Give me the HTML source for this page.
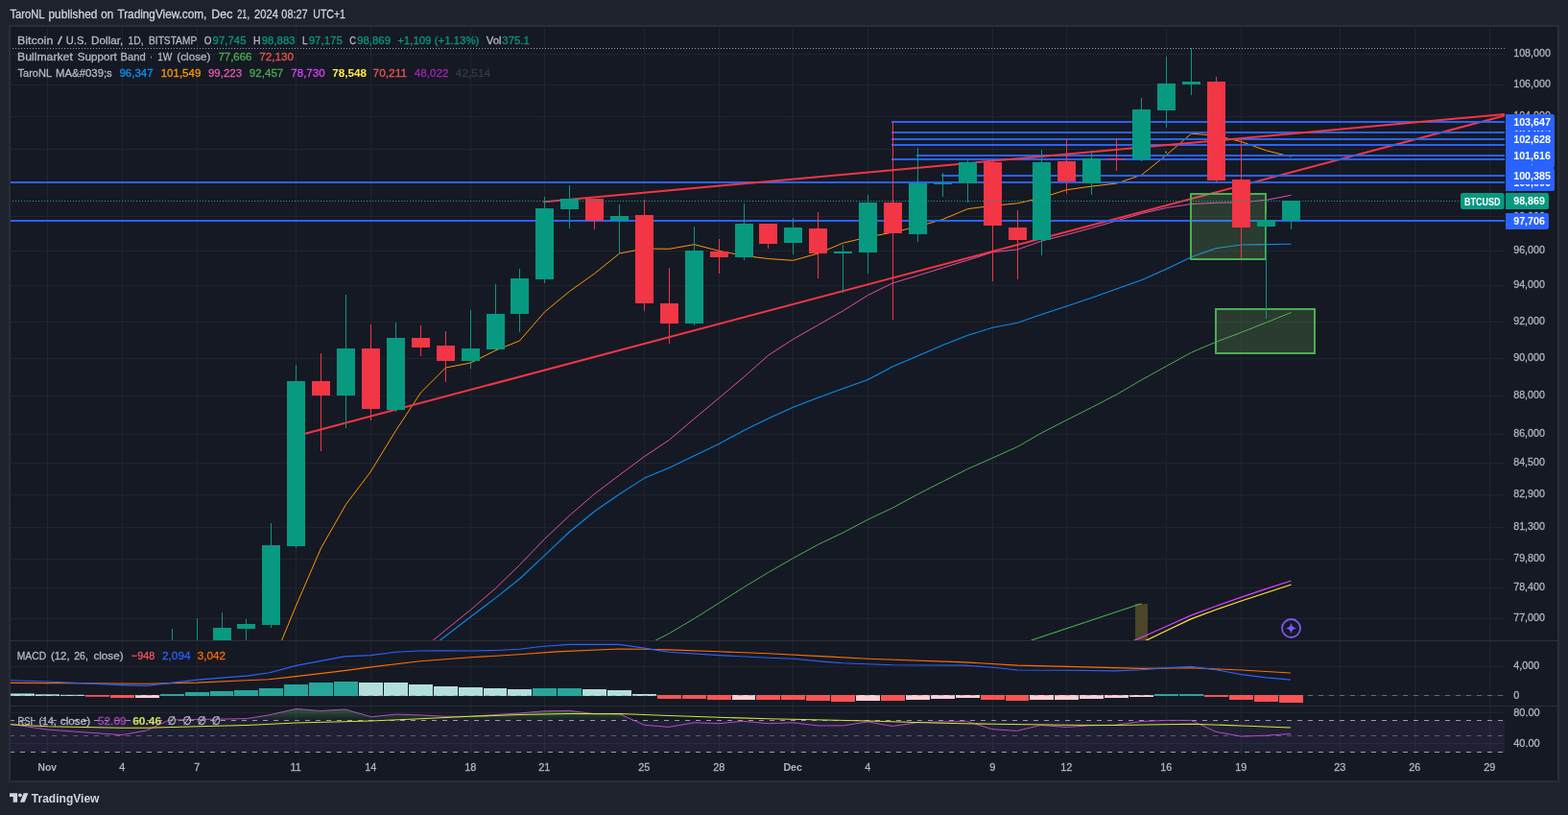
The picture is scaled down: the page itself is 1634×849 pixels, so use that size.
<!DOCTYPE html>
<html lang="en"><head><meta charset="utf-8"><title>BTCUSD chart</title>
<style>html,body{margin:0;padding:0;background:#1e222d;overflow:hidden}svg{display:block}text{white-space:pre}</style></head>
<body>
<svg width="1634" height="849" viewBox="0 0 1634 849" font-family='"Liberation Sans", sans-serif' shape-rendering="auto">
<defs>
<clipPath id="cm"><rect x="11" y="28" width="1557" height="639"/></clipPath>
<clipPath id="cmacd"><rect x="11" y="668" width="1557" height="67"/></clipPath>
<clipPath id="crsi"><rect x="11" y="736" width="1557" height="50"/></clipPath>
<clipPath id="cax"><rect x="1568" y="28" width="56" height="786"/></clipPath>
<linearGradient id="ob" x1="0" y1="726" x2="0" y2="751" gradientUnits="userSpaceOnUse"><stop offset="0" stop-color="#4caf50" stop-opacity="0.8"/><stop offset="1" stop-color="#4caf50" stop-opacity="0.02"/></linearGradient>
</defs>
<rect x="0" y="0" width="1634" height="849" fill="#1e222d" />
<rect x="10" y="27" width="1614" height="787" fill="#151924" stroke="#2a2e39" stroke-width="2"/>
<line x1="49.5" y1="28" x2="49.5" y2="786" stroke="#20242f" stroke-width="1" />
<line x1="127.5" y1="28" x2="127.5" y2="786" stroke="#20242f" stroke-width="1" />
<line x1="205.5" y1="28" x2="205.5" y2="786" stroke="#20242f" stroke-width="1" />
<line x1="308.5" y1="28" x2="308.5" y2="786" stroke="#20242f" stroke-width="1" />
<line x1="386.5" y1="28" x2="386.5" y2="786" stroke="#20242f" stroke-width="1" />
<line x1="490.5" y1="28" x2="490.5" y2="786" stroke="#20242f" stroke-width="1" />
<line x1="567.5" y1="28" x2="567.5" y2="786" stroke="#20242f" stroke-width="1" />
<line x1="671.5" y1="28" x2="671.5" y2="786" stroke="#20242f" stroke-width="1" />
<line x1="749.5" y1="28" x2="749.5" y2="786" stroke="#20242f" stroke-width="1" />
<line x1="826.5" y1="28" x2="826.5" y2="786" stroke="#20242f" stroke-width="1" />
<line x1="904.5" y1="28" x2="904.5" y2="786" stroke="#20242f" stroke-width="1" />
<line x1="1034.5" y1="28" x2="1034.5" y2="786" stroke="#20242f" stroke-width="1" />
<line x1="1111.5" y1="28" x2="1111.5" y2="786" stroke="#20242f" stroke-width="1" />
<line x1="1215.5" y1="28" x2="1215.5" y2="786" stroke="#20242f" stroke-width="1" />
<line x1="1293.5" y1="28" x2="1293.5" y2="786" stroke="#20242f" stroke-width="1" />
<line x1="1396.5" y1="28" x2="1396.5" y2="786" stroke="#20242f" stroke-width="1" />
<line x1="1474.5" y1="28" x2="1474.5" y2="786" stroke="#20242f" stroke-width="1" />
<line x1="1552.5" y1="28" x2="1552.5" y2="786" stroke="#20242f" stroke-width="1" />
<line x1="11" y1="56.5" x2="1568" y2="56.5" stroke="#20242f" stroke-width="1" />
<line x1="11" y1="88.5" x2="1568" y2="88.5" stroke="#20242f" stroke-width="1" />
<line x1="11" y1="121.5" x2="1568" y2="121.5" stroke="#20242f" stroke-width="1" />
<line x1="11" y1="155.5" x2="1568" y2="155.5" stroke="#20242f" stroke-width="1" />
<line x1="11" y1="189.5" x2="1568" y2="189.5" stroke="#20242f" stroke-width="1" />
<line x1="11" y1="225.5" x2="1568" y2="225.5" stroke="#20242f" stroke-width="1" />
<line x1="11" y1="261.5" x2="1568" y2="261.5" stroke="#20242f" stroke-width="1" />
<line x1="11" y1="297.5" x2="1568" y2="297.5" stroke="#20242f" stroke-width="1" />
<line x1="11" y1="335.5" x2="1568" y2="335.5" stroke="#20242f" stroke-width="1" />
<line x1="11" y1="373.5" x2="1568" y2="373.5" stroke="#20242f" stroke-width="1" />
<line x1="11" y1="412.5" x2="1568" y2="412.5" stroke="#20242f" stroke-width="1" />
<line x1="11" y1="452.5" x2="1568" y2="452.5" stroke="#20242f" stroke-width="1" />
<line x1="11" y1="482.5" x2="1568" y2="482.5" stroke="#20242f" stroke-width="1" />
<line x1="11" y1="515.5" x2="1568" y2="515.5" stroke="#20242f" stroke-width="1" />
<line x1="11" y1="549.5" x2="1568" y2="549.5" stroke="#20242f" stroke-width="1" />
<line x1="11" y1="582.5" x2="1568" y2="582.5" stroke="#20242f" stroke-width="1" />
<line x1="11" y1="612.5" x2="1568" y2="612.5" stroke="#20242f" stroke-width="1" />
<line x1="11" y1="644.5" x2="1568" y2="644.5" stroke="#20242f" stroke-width="1" />
<line x1="11" y1="694.5" x2="1568" y2="694.5" stroke="#20242f" stroke-width="1" />
<line x1="11" y1="724.5" x2="1568" y2="724.5" stroke="#20242f" stroke-width="1" />
<line x1="11" y1="742.5" x2="1568" y2="742.5" stroke="#20242f" stroke-width="1" />
<line x1="11" y1="774.5" x2="1568" y2="774.5" stroke="#20242f" stroke-width="1" />
<line x1="10" y1="667.5" x2="1624" y2="667.5" stroke="#2a2e39" stroke-width="1.2" />
<line x1="10" y1="735.5" x2="1624" y2="735.5" stroke="#2a2e39" stroke-width="1.2" />
<g clip-path="url(#cm)">
<line x1="10" y1="50.5" x2="1568" y2="50.5" stroke="#9598a1" stroke-width="1" stroke-dasharray="1.1 1.9"/>
<polyline points="671.5,673.0 697.5,659.8 723.5,644.4 749.5,628.0 775.5,611.5 800.5,596.4 826.5,581.5 852.5,567.3 878.5,554.9 904.5,541.2 930.5,528.9 956.5,514.8 982.5,501.6 1008.5,488.5 1034.5,477.0 1060.5,465.3 1085.5,450.9 1111.5,437.6 1137.5,424.5 1163.5,411.0 1189.5,395.8 1215.5,381.4 1241.5,367.2 1267.5,356.1 1293.5,346.3 1319.5,336.0 1345.5,325.5" fill="none" stroke="#4caf50" stroke-width="1.0" stroke-linejoin="round" />
<polyline points="438.5,682.0 464.5,662.5 490.5,642.5 516.5,622.9 541.5,603.0 567.5,578.6 593.5,554.0 619.5,532.7 645.5,514.8 671.5,498.1 697.5,487.2 723.5,474.7 749.5,462.2 775.5,448.3 800.5,436.0 826.5,424.3 852.5,414.2 878.5,404.8 904.5,395.6 930.5,381.8 956.5,370.7 982.5,359.6 1008.5,349.3 1034.5,341.3 1060.5,336.2 1085.5,327.6 1111.5,319.0 1137.5,310.3 1163.5,301.0 1189.5,291.8 1215.5,280.2 1241.5,267.8 1267.5,258.6 1293.5,255.0 1319.5,254.6 1345.5,254.3" fill="none" stroke="#0a8cee" stroke-width="1.1" stroke-linejoin="round" />
<polyline points="438.5,677.7 464.5,656.2 490.5,635.2 516.5,612.8 541.5,588.5 567.5,561.5 593.5,537.0 619.5,514.5 645.5,494.9 671.5,475.6 697.5,458.2 723.5,436.1 749.5,414.4 775.5,392.5 800.5,370.2 826.5,353.4 852.5,338.6 878.5,323.8 904.5,307.5 930.5,294.8 956.5,287.0 982.5,279.0 1008.5,271.0 1034.5,262.7 1060.5,259.9 1085.5,251.0 1111.5,244.5 1137.5,237.5 1163.5,230.0 1189.5,222.5 1215.5,216.5 1241.5,212.5 1267.5,211.3 1293.5,210.8 1319.5,208.4 1345.5,203.3" fill="none" stroke="#e052a8" stroke-width="1.0" stroke-linejoin="round" />
<polyline points="282.5,694.0 308.5,631.0 334.5,571.0 360.5,525.5 386.5,491.0 412.5,448.5 438.5,409.0 464.5,383.0 490.5,378.0 516.5,365.0 541.5,355.0 567.5,325.0 593.5,303.5 619.5,285.0 645.5,264.0 671.5,259.0 697.5,259.3 723.5,254.7 749.5,261.4 775.5,266.4 800.5,269.5 826.5,271.3 852.5,264.0 878.5,253.2 904.5,247.0 930.5,242.0 956.5,236.0 982.5,228.5 1008.5,217.6 1034.5,214.3 1060.5,211.8 1085.5,206.0 1111.5,197.7 1137.5,194.1 1163.5,191.1 1189.5,182.3 1215.5,161.5 1241.5,139.2 1267.5,141.2 1293.5,147.6 1319.5,156.8 1345.5,163.2" fill="none" stroke="#ff9800" stroke-width="1.0" stroke-linejoin="round" />
<line x1="318" y1="451.7" x2="1568" y2="120.5" stroke="#f23645" stroke-width="2" stroke-linecap="round"/>
<line x1="929" y1="127" x2="1568" y2="127" stroke="#2962ff" stroke-width="2.2" />
<line x1="929" y1="138" x2="1568" y2="138" stroke="#2962ff" stroke-width="2.2" />
<line x1="929" y1="145" x2="1568" y2="145" stroke="#2962ff" stroke-width="2.2" />
<line x1="929" y1="151" x2="1568" y2="151" stroke="#2962ff" stroke-width="2.2" />
<line x1="955" y1="162" x2="1568" y2="162" stroke="#2962ff" stroke-width="2.2" />
<line x1="929" y1="166" x2="1568" y2="166" stroke="#2962ff" stroke-width="2.2" />
<line x1="981" y1="183" x2="1568" y2="183" stroke="#2962ff" stroke-width="2.2" />
<line x1="10" y1="190" x2="1568" y2="190" stroke="#2962ff" stroke-width="2.2" />
<line x1="10" y1="230" x2="1568" y2="230" stroke="#2962ff" stroke-width="2.2" />
<line x1="567" y1="210.3" x2="1568" y2="119" stroke="#f23645" stroke-width="2" stroke-linecap="round"/>
<rect x="1183" y="629" width="13" height="40" fill="#4b4529" />
<line x1="1074.6" y1="667" x2="1189.5" y2="628.8" stroke="#4caf50" stroke-width="1.1" />
<polyline points="1163.5,675.0 1189.5,664.0 1215.5,652.5 1241.5,640.9 1267.5,631.2 1293.5,622.1 1319.5,613.4 1345.5,605.0" fill="none" stroke="#e040fb" stroke-width="1.2" stroke-linejoin="round" />
<polyline points="1189.5,669.5 1215.5,657.0 1241.5,644.6 1267.5,635.0 1293.5,626.0 1319.5,617.5 1345.5,609.0" fill="none" stroke="#ffeb3b" stroke-width="1.2" stroke-linejoin="round" />
<circle cx="1215" cy="158.5" r="1.1" fill="#4caf50"/>
<rect x="1241" y="202" width="78" height="68" fill="#82c364" fill-opacity="0.2" stroke="#4caf50" stroke-width="2"/>
<rect x="1267" y="322" width="103" height="46" fill="#82c364" fill-opacity="0.2" stroke="#4caf50" stroke-width="2"/>
<rect x="179" y="655" width="1" height="65" fill="#089981" />
<rect x="170" y="700" width="19" height="20" fill="#089981" />
<rect x="205" y="644" width="1" height="76" fill="#089981" />
<rect x="196" y="700" width="19" height="20" fill="#089981" />
<rect x="231" y="638" width="1" height="82" fill="#089981" />
<rect x="222" y="654" width="19" height="66" fill="#089981" />
<rect x="256" y="645" width="1" height="75" fill="#089981" />
<rect x="247" y="650" width="19" height="5" fill="#089981" />
<rect x="282" y="545" width="1" height="109" fill="#089981" />
<rect x="273" y="568" width="19" height="83" fill="#089981" />
<rect x="308" y="380" width="1" height="191" fill="#089981" />
<rect x="299" y="397" width="19" height="172" fill="#089981" />
<rect x="334" y="368" width="1" height="102" fill="#f23645" />
<rect x="325" y="397" width="19" height="15" fill="#f23645" />
<rect x="360" y="307" width="1" height="139" fill="#089981" />
<rect x="351" y="363" width="19" height="49" fill="#089981" />
<rect x="386" y="338" width="1" height="100" fill="#f23645" />
<rect x="377" y="363" width="19" height="63" fill="#f23645" />
<rect x="412" y="336" width="1" height="93" fill="#089981" />
<rect x="403" y="352" width="19" height="75" fill="#089981" />
<rect x="438" y="339" width="1" height="32" fill="#f23645" />
<rect x="429" y="352" width="19" height="10" fill="#f23645" />
<rect x="464" y="345" width="1" height="53" fill="#f23645" />
<rect x="455" y="360" width="19" height="16" fill="#f23645" />
<rect x="490" y="323" width="1" height="61" fill="#089981" />
<rect x="481" y="363" width="19" height="13" fill="#089981" />
<rect x="516" y="296" width="1" height="69" fill="#089981" />
<rect x="507" y="327" width="19" height="37" fill="#089981" />
<rect x="541" y="280" width="1" height="66" fill="#089981" />
<rect x="532" y="290" width="19" height="37" fill="#089981" />
<rect x="567" y="205" width="1" height="90" fill="#089981" />
<rect x="558" y="217" width="19" height="74" fill="#089981" />
<rect x="593" y="193" width="1" height="45" fill="#089981" />
<rect x="584" y="207" width="19" height="11" fill="#089981" />
<rect x="619" y="207" width="1" height="32" fill="#f23645" />
<rect x="610" y="207" width="19" height="23" fill="#f23645" />
<rect x="645" y="213" width="1" height="51" fill="#089981" />
<rect x="636" y="225" width="19" height="5" fill="#089981" />
<rect x="671" y="208" width="1" height="116" fill="#f23645" />
<rect x="662" y="224" width="19" height="92" fill="#f23645" />
<rect x="697" y="279" width="1" height="79" fill="#f23645" />
<rect x="688" y="316" width="19" height="21" fill="#f23645" />
<rect x="723" y="236" width="1" height="103" fill="#089981" />
<rect x="714" y="261" width="19" height="76" fill="#089981" />
<rect x="749" y="249" width="1" height="36" fill="#f23645" />
<rect x="740" y="262" width="19" height="6" fill="#f23645" />
<rect x="775" y="212" width="1" height="59" fill="#089981" />
<rect x="766" y="233" width="19" height="35" fill="#089981" />
<rect x="800" y="233" width="1" height="26" fill="#f23645" />
<rect x="791" y="233" width="19" height="21" fill="#f23645" />
<rect x="826" y="227" width="1" height="38" fill="#089981" />
<rect x="817" y="237" width="19" height="16" fill="#089981" />
<rect x="852" y="221" width="1" height="69" fill="#f23645" />
<rect x="843" y="238" width="19" height="26" fill="#f23645" />
<rect x="878" y="255" width="1" height="50" fill="#089981" />
<rect x="869" y="262" width="19" height="2" fill="#089981" />
<rect x="904" y="203" width="1" height="82" fill="#089981" />
<rect x="895" y="211" width="19" height="52" fill="#089981" />
<rect x="930" y="127" width="1" height="206" fill="#f23645" />
<rect x="921" y="211" width="19" height="32" fill="#f23645" />
<rect x="956" y="154" width="1" height="98" fill="#089981" />
<rect x="947" y="191" width="19" height="53" fill="#089981" />
<rect x="982" y="180" width="1" height="25" fill="#089981" />
<rect x="973" y="191" width="19" height="1" fill="#089981" />
<rect x="1008" y="165" width="1" height="46" fill="#089981" />
<rect x="999" y="169" width="19" height="22" fill="#089981" />
<rect x="1034" y="168" width="1" height="125" fill="#f23645" />
<rect x="1025" y="169" width="19" height="66" fill="#f23645" />
<rect x="1060" y="219" width="1" height="72" fill="#f23645" />
<rect x="1051" y="237" width="19" height="13" fill="#f23645" />
<rect x="1085" y="156" width="1" height="110" fill="#089981" />
<rect x="1076" y="169" width="19" height="81" fill="#089981" />
<rect x="1111" y="145" width="1" height="57" fill="#f23645" />
<rect x="1102" y="168" width="19" height="21" fill="#f23645" />
<rect x="1137" y="157" width="1" height="46" fill="#089981" />
<rect x="1128" y="165" width="19" height="26" fill="#089981" />
<rect x="1163" y="144" width="1" height="34" fill="#f23645" />
<rect x="1154" y="165" width="19" height="1" fill="#f23645" />
<rect x="1189" y="102" width="1" height="66" fill="#089981" />
<rect x="1180" y="114" width="19" height="52" fill="#089981" />
<rect x="1215" y="59" width="1" height="74" fill="#089981" />
<rect x="1206" y="87" width="19" height="28" fill="#089981" />
<rect x="1241" y="50" width="1" height="49" fill="#089981" />
<rect x="1232" y="85" width="19" height="3" fill="#089981" />
<rect x="1267" y="80" width="1" height="110" fill="#f23645" />
<rect x="1258" y="85" width="19" height="103" fill="#f23645" />
<rect x="1293" y="145" width="1" height="124" fill="#f23645" />
<rect x="1284" y="187" width="19" height="50" fill="#f23645" />
<rect x="1319" y="223" width="1" height="109" fill="#089981" />
<rect x="1310" y="229" width="19" height="7" fill="#089981" />
<rect x="1345" y="209" width="1" height="30" fill="#089981" />
<rect x="1336" y="209" width="19" height="21" fill="#089981" />
<line x1="10" y1="209.5" x2="1522" y2="209.5" stroke="#0aa58c" stroke-width="1" stroke-dasharray="1.15 1.85"/>
<g transform="translate(1345.5,654.5)"><circle r="9.5" fill="none" stroke="#7e57f2" stroke-width="1.8"/><path d="M0,-6 C0.8,-1.8 1.8,-0.8 6,0 C1.8,0.8 0.8,1.8 0,6 C-0.8,1.8 -1.8,0.8 -6,0 C-1.8,-0.8 -0.8,-1.8 0,-6Z" fill="#7e57f2"/></g>
</g>
<g clip-path="url(#cmacd)">
<rect x="11" y="722.5" width="25" height="2.5" fill="#b2dfdb" />
<rect x="37" y="723.3" width="25" height="1.7000000000000455" fill="#b2dfdb" />
<rect x="63" y="723.8" width="25" height="1.2000000000000455" fill="#b2dfdb" />
<rect x="89" y="724" width="25" height="1.7999999999999545" fill="#ff5252" />
<rect x="115" y="724" width="25" height="3" fill="#ff5252" />
<rect x="141" y="724" width="25" height="3" fill="#ffcdd2" />
<rect x="167" y="723" width="25" height="2" fill="#26a69a" />
<rect x="193" y="721" width="25" height="4" fill="#26a69a" />
<rect x="219" y="720" width="24" height="5" fill="#26a69a" />
<rect x="244" y="719" width="25" height="6" fill="#26a69a" />
<rect x="270" y="717" width="25" height="8" fill="#26a69a" />
<rect x="296" y="713" width="25" height="12" fill="#26a69a" />
<rect x="322" y="711" width="25" height="14" fill="#26a69a" />
<rect x="348" y="710" width="25" height="15" fill="#26a69a" />
<rect x="374" y="711" width="25" height="14" fill="#b2dfdb" />
<rect x="400" y="711" width="25" height="14" fill="#b2dfdb" />
<rect x="426" y="713" width="25" height="12" fill="#b2dfdb" />
<rect x="452" y="715" width="25" height="10" fill="#b2dfdb" />
<rect x="478" y="716" width="25" height="9" fill="#b2dfdb" />
<rect x="504" y="717" width="24" height="8" fill="#b2dfdb" />
<rect x="529" y="718" width="25" height="7" fill="#b2dfdb" />
<rect x="555" y="717" width="25" height="8" fill="#26a69a" />
<rect x="581" y="717" width="25" height="8" fill="#26a69a" />
<rect x="607" y="718" width="25" height="7" fill="#b2dfdb" />
<rect x="633" y="719" width="25" height="6" fill="#b2dfdb" />
<rect x="659" y="723" width="25" height="2" fill="#b2dfdb" />
<rect x="685" y="724" width="25" height="4" fill="#ff5252" />
<rect x="711" y="724" width="25" height="4" fill="#ff5252" />
<rect x="737" y="724" width="25" height="5" fill="#ff5252" />
<rect x="763" y="724" width="24" height="5" fill="#ffcdd2" />
<rect x="788" y="724" width="25" height="5" fill="#ff5252" />
<rect x="814" y="724" width="25" height="5" fill="#ff5252" />
<rect x="840" y="724" width="25" height="6" fill="#ff5252" />
<rect x="866" y="724" width="25" height="7" fill="#ff5252" />
<rect x="892" y="724" width="25" height="6" fill="#ffcdd2" />
<rect x="918" y="724" width="25" height="6" fill="#ff5252" />
<rect x="944" y="724" width="25" height="5" fill="#ffcdd2" />
<rect x="970" y="724" width="25" height="4" fill="#ffcdd2" />
<rect x="996" y="724" width="25" height="3" fill="#ffcdd2" />
<rect x="1022" y="724" width="25" height="5" fill="#ff5252" />
<rect x="1048" y="724" width="24" height="6" fill="#ff5252" />
<rect x="1073" y="724" width="25" height="5" fill="#ffcdd2" />
<rect x="1099" y="724" width="25" height="5" fill="#ffcdd2" />
<rect x="1125" y="724" width="25" height="4" fill="#ffcdd2" />
<rect x="1151" y="724" width="25" height="3" fill="#ffcdd2" />
<rect x="1177" y="724" width="25" height="2" fill="#ffcdd2" />
<rect x="1203" y="723" width="25" height="2" fill="#26a69a" />
<rect x="1229" y="723" width="25" height="2" fill="#26a69a" />
<rect x="1255" y="724" width="25" height="2" fill="#ff5252" />
<rect x="1281" y="724" width="25" height="5" fill="#ff5252" />
<rect x="1307" y="724" width="25" height="7" fill="#ff5252" />
<rect x="1333" y="724" width="25" height="8" fill="#ff5252" />
<line x1="10" y1="724.5" x2="1358" y2="724.5" stroke="#868993" stroke-width="1" stroke-dasharray="5 6" stroke-opacity="0.45"/>
<line x1="1363" y1="724.5" x2="1568" y2="724.5" stroke="#868993" stroke-width="1" stroke-dasharray="5 6" stroke-opacity="0.7"/>
<polyline points="10.0,711.4 126.8,712.0 152.5,712.3 205.8,711.1 257.2,708.7 280.0,707.8 308.5,704.6 359.0,698.6 386.6,694.9 438.0,688.8 490.4,684.8 540.9,681.7 580.0,678.9 645.4,676.0 671.2,676.2 696.9,676.9 749.2,678.7 800.7,680.8 860.0,683.9 904.3,686.3 1005.4,689.9 1060.5,693.1 1111.9,694.4 1189.8,696.4 1241.3,695.8 1293.6,698.0 1345.0,701.0" fill="none" stroke="#ff6d00" stroke-width="1.15" stroke-linejoin="round" />
<polyline points="10.0,708.7 49.5,710.0 126.8,713.6 152.5,714.4 205.8,708.1 257.2,704.1 281.1,700.8 308.5,693.4 359.0,683.9 386.6,682.6 412.3,679.3 438.0,678.0 463.7,677.8 490.4,678.0 517.0,677.5 540.9,676.2 566.6,673.2 593.1,671.4 618.8,671.4 645.4,671.4 671.2,675.1 696.9,679.3 749.2,682.6 800.7,685.2 826.4,686.3 860.0,689.4 878.6,690.7 930.0,692.7 1005.4,693.1 1034.7,695.3 1060.5,698.0 1111.9,698.2 1162.3,698.9 1189.8,697.7 1215.5,695.8 1241.3,694.4 1267.0,697.7 1293.6,702.6 1319.3,705.9 1345.0,708.1" fill="none" stroke="#2962ff" stroke-width="1.15" stroke-linejoin="round" />
</g>
<g clip-path="url(#crsi)">
<rect x="11" y="750.5" width="1557" height="33" fill="#7e57c2" fill-opacity="0.115"/>
<polygon points="175.3,750.5 176.4,750.0 257.2,748.6 280.0,744.9 308.5,738.4 333.3,740.5 359.9,739.0 386.6,746.7 412.3,744.1 438.0,744.9 463.7,746.3 490.4,746.3 517.0,744.5 540.9,743.0 566.6,740.8 593.1,740.3 618.8,743.6 645.4,743.6 660.7,750.5" fill="url(#ob)"/>
<polygon points="1213.2,750.5 1215.5,750.4 1241.3,750.4 1241.5,750.5" fill="url(#ob)"/>
<line x1="10" y1="750.5" x2="1568" y2="750.5" stroke="#9a9da7" stroke-width="1" stroke-dasharray="5 6" stroke-opacity="1"/>
<line x1="10" y1="766.5" x2="1568" y2="766.5" stroke="#9a9da7" stroke-width="1" stroke-dasharray="5 6" stroke-opacity="0.5"/>
<line x1="10" y1="783.5" x2="1568" y2="783.5" stroke="#9a9da7" stroke-width="1" stroke-dasharray="5 6" stroke-opacity="1"/>
<polyline points="10.0,754.2 49.6,760.1 126.8,765.6 152.5,761.0 176.4,750.0 257.2,748.6 280.0,744.9 308.5,738.4 333.3,740.5 359.9,739.0 386.6,746.7 412.3,744.1 438.0,744.9 463.7,746.3 490.4,746.3 517.0,744.5 540.9,743.0 566.6,740.8 593.1,740.3 618.8,743.6 645.4,743.6 671.2,755.2 696.9,757.4 723.5,752.8 749.2,753.7 774.0,751.3 800.7,753.7 826.4,752.8 852.1,755.9 878.6,755.9 904.3,751.9 930.0,756.5 955.7,752.8 981.5,751.9 1007.2,751.3 1033.8,759.6 1059.5,761.4 1084.3,755.5 1111.0,757.4 1137.0,755.8 1162.3,755.2 1189.8,751.5 1215.5,750.4 1241.3,750.4 1267.0,762.3 1293.6,767.1 1319.3,766.2 1345.0,764.4" fill="none" stroke="#b44bc8" stroke-width="1.0" stroke-linejoin="round" />
<polyline points="10.0,754.6 49.6,756.8 126.8,758.3 152.5,758.3 205.8,756.8 257.2,755.5 308.5,753.1 386.6,750.9 438.0,748.7 490.4,746.3 540.9,744.5 593.1,743.6 645.4,743.6 696.9,745.4 749.2,747.3 800.7,748.7 860.0,750.0 904.3,750.9 981.5,753.3 1033.8,754.2 1111.0,755.2 1162.3,755.5 1241.3,754.2 1293.6,755.9 1345.0,757.9" fill="none" stroke="#d5e632" stroke-width="1.05" stroke-linejoin="round" />
</g>
<text x="18.0" y="45.6" fill="#b8bbc4" font-size="11.8" font-weight="normal" text-anchor="start" textLength="37.3" lengthAdjust="spacingAndGlyphs" stroke="#b8bbc4" stroke-width="0.28" >Bitcoin</text>
<text x="60" y="45.6" fill="#b8bbc4" font-size="11.8" font-weight="normal" text-anchor="start" textLength="4.8" lengthAdjust="spacingAndGlyphs" stroke="#b8bbc4" stroke-width="0.28" >/</text>
<text x="68.8" y="45.6" fill="#b8bbc4" font-size="11.8" font-weight="normal" text-anchor="start" textLength="21.7" lengthAdjust="spacingAndGlyphs" stroke="#b8bbc4" stroke-width="0.28" >U.S.</text>
<text x="95" y="45.6" fill="#b8bbc4" font-size="11.8" font-weight="normal" text-anchor="start" textLength="33.3" lengthAdjust="spacingAndGlyphs" stroke="#b8bbc4" stroke-width="0.28" >Dollar,</text>
<text x="133.6" y="45.6" fill="#b8bbc4" font-size="11.8" font-weight="normal" text-anchor="start" textLength="16.0" lengthAdjust="spacingAndGlyphs" stroke="#b8bbc4" stroke-width="0.28" >1D,</text>
<text x="155" y="45.6" fill="#b8bbc4" font-size="11.8" font-weight="normal" text-anchor="start" textLength="50.2" lengthAdjust="spacingAndGlyphs" stroke="#b8bbc4" stroke-width="0.28" >BITSTAMP</text>
<text x="212.7" y="45.6" fill="#b8bbc4" font-size="11.8" font-weight="normal" text-anchor="start" textLength="7.7" lengthAdjust="spacingAndGlyphs" stroke="#b8bbc4" stroke-width="0.28" >O</text>
<text x="221.6" y="45.6" fill="#089981" font-size="11.8" font-weight="normal" text-anchor="start" textLength="34.9" lengthAdjust="spacingAndGlyphs" stroke="#089981" stroke-width="0.28" >97,745</text>
<text x="263.9" y="45.6" fill="#b8bbc4" font-size="11.8" font-weight="normal" text-anchor="start" textLength="7.5" lengthAdjust="spacingAndGlyphs" stroke="#b8bbc4" stroke-width="0.28" >H</text>
<text x="272.7" y="45.6" fill="#089981" font-size="11.8" font-weight="normal" text-anchor="start" textLength="34.9" lengthAdjust="spacingAndGlyphs" stroke="#089981" stroke-width="0.28" >98,883</text>
<text x="314.9" y="45.6" fill="#b8bbc4" font-size="11.8" font-weight="normal" text-anchor="start" textLength="5.5" lengthAdjust="spacingAndGlyphs" stroke="#b8bbc4" stroke-width="0.28" >L</text>
<text x="321.7" y="45.6" fill="#089981" font-size="11.8" font-weight="normal" text-anchor="start" textLength="35.1" lengthAdjust="spacingAndGlyphs" stroke="#089981" stroke-width="0.28" >97,175</text>
<text x="364.2" y="45.6" fill="#b8bbc4" font-size="11.8" font-weight="normal" text-anchor="start" textLength="6.8" lengthAdjust="spacingAndGlyphs" stroke="#b8bbc4" stroke-width="0.28" >C</text>
<text x="372.2" y="45.6" fill="#089981" font-size="11.8" font-weight="normal" text-anchor="start" textLength="34.8" lengthAdjust="spacingAndGlyphs" stroke="#089981" stroke-width="0.28" >98,869</text>
<text x="414.2" y="45.6" fill="#089981" font-size="11.8" font-weight="normal" text-anchor="start" textLength="85.2" lengthAdjust="spacingAndGlyphs" stroke="#089981" stroke-width="0.28" >+1,109 (+1.13%)</text>
<text x="506.7" y="45.6" fill="#b8bbc4" font-size="11.8" font-weight="normal" text-anchor="start" textLength="15.8" lengthAdjust="spacingAndGlyphs" stroke="#b8bbc4" stroke-width="0.28" >Vol</text>
<text x="523.3" y="45.6" fill="#089981" font-size="11.8" font-weight="normal" text-anchor="start" textLength="28.6" lengthAdjust="spacingAndGlyphs" stroke="#089981" stroke-width="0.28" >375.1</text>
<text x="18" y="62.5" fill="#b8bbc4" font-size="11.8" font-weight="normal" text-anchor="start" textLength="57.8" lengthAdjust="spacingAndGlyphs" stroke="#b8bbc4" stroke-width="0.28" >Bullmarket</text>
<text x="80.7" y="62.5" fill="#b8bbc4" font-size="11.8" font-weight="normal" text-anchor="start" textLength="41.0" lengthAdjust="spacingAndGlyphs" stroke="#b8bbc4" stroke-width="0.28" >Support</text>
<text x="125.6" y="62.5" fill="#b8bbc4" font-size="11.8" font-weight="normal" text-anchor="start" textLength="26.2" lengthAdjust="spacingAndGlyphs" stroke="#b8bbc4" stroke-width="0.28" >Band</text>
<text x="156.2" y="62.5" fill="#b8bbc4" font-size="11.8" font-weight="normal" text-anchor="start" textLength="2.4" lengthAdjust="spacingAndGlyphs" stroke="#b8bbc4" stroke-width="0.28" >·</text>
<text x="164.2" y="62.5" fill="#b8bbc4" font-size="11.8" font-weight="normal" text-anchor="start" textLength="15.2" lengthAdjust="spacingAndGlyphs" stroke="#b8bbc4" stroke-width="0.28" >1W</text>
<text x="184.3" y="62.5" fill="#b8bbc4" font-size="11.8" font-weight="normal" text-anchor="start" textLength="35.1" lengthAdjust="spacingAndGlyphs" stroke="#b8bbc4" stroke-width="0.28" >(close)</text>
<text x="227.4" y="62.5" fill="#4caf50" font-size="11.8" font-weight="normal" text-anchor="start" textLength="35.1" lengthAdjust="spacingAndGlyphs" stroke="#4caf50" stroke-width="0.28" >77,666</text>
<text x="270.2" y="62.5" fill="#ef5350" font-size="11.8" font-weight="normal" text-anchor="start" textLength="35.9" lengthAdjust="spacingAndGlyphs" stroke="#ef5350" stroke-width="0.28" >72,130</text>
<text x="18.5" y="79.5" fill="#b8bbc4" font-size="11.8" font-weight="normal" text-anchor="start" textLength="35.6" lengthAdjust="spacingAndGlyphs" stroke="#b8bbc4" stroke-width="0.28" >TaroNL</text>
<text x="58" y="79.5" fill="#b8bbc4" font-size="11.8" font-weight="normal" text-anchor="start" textLength="58.8" lengthAdjust="spacingAndGlyphs" stroke="#b8bbc4" stroke-width="0.28" >MA&amp;#039;s</text>
<text x="124.4" y="79.5" fill="#0a94fa" font-size="11.8" font-weight="normal" text-anchor="start" textLength="35.2" lengthAdjust="spacingAndGlyphs" stroke="#0a94fa" stroke-width="0.28" >96,347</text>
<text x="167.7" y="79.5" fill="#ff9800" font-size="11.8" font-weight="normal" text-anchor="start" textLength="41.6" lengthAdjust="spacingAndGlyphs" stroke="#ff9800" stroke-width="0.28" >101,549</text>
<text x="216.9" y="79.5" fill="#e65aac" font-size="11.8" font-weight="normal" text-anchor="start" textLength="35.2" lengthAdjust="spacingAndGlyphs" stroke="#e65aac" stroke-width="0.28" >99,223</text>
<text x="259.8" y="79.5" fill="#4caf50" font-size="11.8" font-weight="normal" text-anchor="start" textLength="35.5" lengthAdjust="spacingAndGlyphs" stroke="#4caf50" stroke-width="0.28" >92,457</text>
<text x="303.3" y="79.5" fill="#e040fb" font-size="11.8" font-weight="normal" text-anchor="start" textLength="35.3" lengthAdjust="spacingAndGlyphs" stroke="#e040fb" stroke-width="0.28" >78,730</text>
<text x="346.2" y="79.5" fill="#ffeb3b" font-size="11.8" font-weight="bold" text-anchor="start" textLength="35.8" lengthAdjust="spacingAndGlyphs" >78,548</text>
<text x="388.5" y="79.5" fill="#ef5350" font-size="11.8" font-weight="normal" text-anchor="start" textLength="35.6" lengthAdjust="spacingAndGlyphs" stroke="#ef5350" stroke-width="0.28" >70,211</text>
<text x="431.8" y="79.5" fill="#9c27b0" font-size="11.8" font-weight="normal" text-anchor="start" textLength="35.6" lengthAdjust="spacingAndGlyphs" stroke="#9c27b0" stroke-width="0.28" >48,022</text>
<text x="474.8" y="79.5" fill="#363a45" font-size="11.8" font-weight="normal" text-anchor="start" textLength="36.3" lengthAdjust="spacingAndGlyphs" stroke="#363a45" stroke-width="0.28" >42,514</text>
<text x="17.8" y="686.7" fill="#b8bbc4" font-size="11.8" font-weight="normal" text-anchor="start" textLength="30.3" lengthAdjust="spacingAndGlyphs" stroke="#b8bbc4" stroke-width="0.28" >MACD</text>
<text x="52.9" y="686.7" fill="#b8bbc4" font-size="11.8" font-weight="normal" text-anchor="start" textLength="19.7" lengthAdjust="spacingAndGlyphs" stroke="#b8bbc4" stroke-width="0.28" >(12,</text>
<text x="77.2" y="686.7" fill="#b8bbc4" font-size="11.8" font-weight="normal" text-anchor="start" textLength="14.7" lengthAdjust="spacingAndGlyphs" stroke="#b8bbc4" stroke-width="0.28" >26,</text>
<text x="97.4" y="686.7" fill="#b8bbc4" font-size="11.8" font-weight="normal" text-anchor="start" textLength="31.2" lengthAdjust="spacingAndGlyphs" stroke="#b8bbc4" stroke-width="0.28" >close)</text>
<text x="136.9" y="686.7" fill="#f7525f" font-size="11.8" font-weight="normal" text-anchor="start" textLength="24.5" lengthAdjust="spacingAndGlyphs" stroke="#f7525f" stroke-width="0.28" >−948</text>
<text x="169" y="686.7" fill="#2962ff" font-size="11.8" font-weight="normal" text-anchor="start" textLength="29.5" lengthAdjust="spacingAndGlyphs" stroke="#2962ff" stroke-width="0.28" >2,094</text>
<text x="205.8" y="686.7" fill="#ff6d00" font-size="11.8" font-weight="normal" text-anchor="start" textLength="29.3" lengthAdjust="spacingAndGlyphs" stroke="#ff6d00" stroke-width="0.28" >3,042</text>
<text x="18.4" y="755.0" fill="#b8bbc4" font-size="11.8" font-weight="normal" text-anchor="start" textLength="15.6" lengthAdjust="spacingAndGlyphs" stroke="#b8bbc4" stroke-width="0.28" >RSI</text>
<text x="40.4" y="755.0" fill="#b8bbc4" font-size="11.8" font-weight="normal" text-anchor="start" textLength="18.4" lengthAdjust="spacingAndGlyphs" stroke="#b8bbc4" stroke-width="0.28" >(14,</text>
<text x="62.8" y="755.0" fill="#b8bbc4" font-size="11.8" font-weight="normal" text-anchor="start" textLength="31.3" lengthAdjust="spacingAndGlyphs" stroke="#b8bbc4" stroke-width="0.28" >close)</text>
<text x="102" y="755.3" fill="#ab47bc" font-size="11.8" font-weight="normal" text-anchor="start" textLength="29.5" lengthAdjust="spacingAndGlyphs" stroke="#ab47bc" stroke-width="0.28" >52.09</text>
<text x="138.2" y="755.3" fill="#d4e157" font-size="11.8" font-weight="bold" text-anchor="start" textLength="30" lengthAdjust="spacingAndGlyphs" >60.46</text>
<text x="174.6" y="755.0" fill="#bcbfc8" stroke="#bcbfc8" stroke-width="0.3" font-size="12.5" font-family="DejaVu Sans, sans-serif" textLength="9.2" lengthAdjust="spacingAndGlyphs">∅</text>
<text x="190.4" y="755.0" fill="#bcbfc8" stroke="#bcbfc8" stroke-width="0.3" font-size="12.5" font-family="DejaVu Sans, sans-serif" textLength="9.2" lengthAdjust="spacingAndGlyphs">∅</text>
<text x="205.70000000000002" y="755.0" fill="#bcbfc8" stroke="#bcbfc8" stroke-width="0.3" font-size="12.5" font-family="DejaVu Sans, sans-serif" textLength="9.2" lengthAdjust="spacingAndGlyphs">∅</text>
<text x="220.8" y="755.0" fill="#bcbfc8" stroke="#bcbfc8" stroke-width="0.3" font-size="12.5" font-family="DejaVu Sans, sans-serif" textLength="9.2" lengthAdjust="spacingAndGlyphs">∅</text>
<g clip-path="url(#cax)">
<text x="1577.2" y="59.1" fill="#b2b5be" font-size="10.9" font-weight="normal" text-anchor="start" textLength="38.7" lengthAdjust="spacingAndGlyphs" stroke="#b2b5be" stroke-width="0.28" >108,000</text>
<text x="1577.2" y="91.10000000000001" fill="#b2b5be" font-size="10.9" font-weight="normal" text-anchor="start" textLength="38.7" lengthAdjust="spacingAndGlyphs" stroke="#b2b5be" stroke-width="0.28" >106,000</text>
<text x="1577.2" y="123.9" fill="#b2b5be" font-size="10.9" font-weight="normal" text-anchor="start" textLength="38.7" lengthAdjust="spacingAndGlyphs" stroke="#b2b5be" stroke-width="0.28" >104,000</text>
<text x="1577.2" y="158.9" fill="#b2b5be" font-size="10.9" font-weight="normal" text-anchor="start" textLength="38.7" lengthAdjust="spacingAndGlyphs" stroke="#b2b5be" stroke-width="0.28" >102,000</text>
<text x="1577.2" y="193.4" fill="#b2b5be" font-size="10.9" font-weight="normal" text-anchor="start" textLength="38.7" lengthAdjust="spacingAndGlyphs" stroke="#b2b5be" stroke-width="0.28" >100,000</text>
<text x="1577.2" y="228.9" fill="#b2b5be" font-size="10.9" font-weight="normal" text-anchor="start" textLength="32.8" lengthAdjust="spacingAndGlyphs" stroke="#b2b5be" stroke-width="0.28" >98,000</text>
<text x="1577.2" y="264.09999999999997" fill="#b2b5be" font-size="10.9" font-weight="normal" text-anchor="start" textLength="32.8" lengthAdjust="spacingAndGlyphs" stroke="#b2b5be" stroke-width="0.28" >96,000</text>
<text x="1577.2" y="300.2" fill="#b2b5be" font-size="10.9" font-weight="normal" text-anchor="start" textLength="32.8" lengthAdjust="spacingAndGlyphs" stroke="#b2b5be" stroke-width="0.28" >94,000</text>
<text x="1577.2" y="338.2" fill="#b2b5be" font-size="10.9" font-weight="normal" text-anchor="start" textLength="32.8" lengthAdjust="spacingAndGlyphs" stroke="#b2b5be" stroke-width="0.28" >92,000</text>
<text x="1577.2" y="376.2" fill="#b2b5be" font-size="10.9" font-weight="normal" text-anchor="start" textLength="32.8" lengthAdjust="spacingAndGlyphs" stroke="#b2b5be" stroke-width="0.28" >90,000</text>
<text x="1577.2" y="415.09999999999997" fill="#b2b5be" font-size="10.9" font-weight="normal" text-anchor="start" textLength="32.8" lengthAdjust="spacingAndGlyphs" stroke="#b2b5be" stroke-width="0.28" >88,000</text>
<text x="1577.2" y="455.09999999999997" fill="#b2b5be" font-size="10.9" font-weight="normal" text-anchor="start" textLength="32.8" lengthAdjust="spacingAndGlyphs" stroke="#b2b5be" stroke-width="0.28" >86,000</text>
<text x="1577.2" y="485.2" fill="#b2b5be" font-size="10.9" font-weight="normal" text-anchor="start" textLength="32.8" lengthAdjust="spacingAndGlyphs" stroke="#b2b5be" stroke-width="0.28" >84,500</text>
<text x="1577.2" y="518.1999999999999" fill="#b2b5be" font-size="10.9" font-weight="normal" text-anchor="start" textLength="32.8" lengthAdjust="spacingAndGlyphs" stroke="#b2b5be" stroke-width="0.28" >82,900</text>
<text x="1577.2" y="552.1999999999999" fill="#b2b5be" font-size="10.9" font-weight="normal" text-anchor="start" textLength="32.8" lengthAdjust="spacingAndGlyphs" stroke="#b2b5be" stroke-width="0.28" >81,300</text>
<text x="1577.2" y="585.1999999999999" fill="#b2b5be" font-size="10.9" font-weight="normal" text-anchor="start" textLength="32.8" lengthAdjust="spacingAndGlyphs" stroke="#b2b5be" stroke-width="0.28" >79,800</text>
<text x="1577.2" y="615.1999999999999" fill="#b2b5be" font-size="10.9" font-weight="normal" text-anchor="start" textLength="32.8" lengthAdjust="spacingAndGlyphs" stroke="#b2b5be" stroke-width="0.28" >78,400</text>
<text x="1577.2" y="647.1999999999999" fill="#b2b5be" font-size="10.9" font-weight="normal" text-anchor="start" textLength="32.8" lengthAdjust="spacingAndGlyphs" stroke="#b2b5be" stroke-width="0.28" >77,000</text>
<text x="1577.2" y="697.3" fill="#b2b5be" font-size="10.9" font-weight="normal" text-anchor="start" textLength="27" lengthAdjust="spacingAndGlyphs" stroke="#b2b5be" stroke-width="0.28" >4,000</text>
<text x="1577.2" y="728.0" fill="#b2b5be" font-size="10.9" font-weight="normal" text-anchor="start" stroke="#b2b5be" stroke-width="0.28" >0</text>
<text x="1577.2" y="746.2" fill="#b2b5be" font-size="10.9" font-weight="normal" text-anchor="start" textLength="27.5" lengthAdjust="spacingAndGlyphs" stroke="#b2b5be" stroke-width="0.28" >80.00</text>
<text x="1577.2" y="778.2" fill="#b2b5be" font-size="10.9" font-weight="normal" text-anchor="start" textLength="27.5" lengthAdjust="spacingAndGlyphs" stroke="#b2b5be" stroke-width="0.28" >40.00</text>
<path d="M1569,130 H1618 Q1620,130 1620,132 V145 Q1620,147 1618,147 H1569 Z" fill="#2962ff"/>
<text x="1577.2" y="142.2" fill="#ffffff" font-size="10.9" font-weight="bold" text-anchor="start" textLength="38.8" lengthAdjust="spacingAndGlyphs" >103,012</text>
<path d="M1569,143 H1618 Q1620,143 1620,145 V158 Q1620,160 1618,160 H1569 Z" fill="#2962ff"/>
<text x="1577.2" y="155.2" fill="#ffffff" font-size="10.9" font-weight="bold" text-anchor="start" textLength="38.8" lengthAdjust="spacingAndGlyphs" >102,251</text>
<path d="M1569,158 H1618 Q1620,158 1620,160 V173 Q1620,175 1618,175 H1569 Z" fill="#2962ff"/>
<text x="1577.2" y="170.2" fill="#ffffff" font-size="10.9" font-weight="bold" text-anchor="start" textLength="38.8" lengthAdjust="spacingAndGlyphs" >101,370</text>
<path d="M1569,182 H1618 Q1620,182 1620,184 V197 Q1620,199 1618,199 H1569 Z" fill="#2962ff"/>
<text x="1577.2" y="194.2" fill="#ffffff" font-size="10.9" font-weight="bold" text-anchor="start" textLength="38.8" lengthAdjust="spacingAndGlyphs" >100,000</text>
<path d="M1569,119 H1618 Q1620,119 1620,121 V134 Q1620,136 1618,136 H1569 Z" fill="#2962ff"/>
<text x="1577.2" y="131.2" fill="#ffffff" font-size="10.9" font-weight="bold" text-anchor="start" textLength="38.8" lengthAdjust="spacingAndGlyphs" >103,647</text>
<path d="M1569,137 H1618 Q1620,137 1620,139 V152 Q1620,154 1618,154 H1569 Z" fill="#2962ff"/>
<text x="1577.2" y="149.2" fill="#ffffff" font-size="10.9" font-weight="bold" text-anchor="start" textLength="38.8" lengthAdjust="spacingAndGlyphs" >102,628</text>
<path d="M1569,154 H1618 Q1620,154 1620,156 V169 Q1620,171 1618,171 H1569 Z" fill="#2962ff"/>
<text x="1577.2" y="166.2" fill="#ffffff" font-size="10.9" font-weight="bold" text-anchor="start" textLength="38.8" lengthAdjust="spacingAndGlyphs" >101,616</text>
<path d="M1569,175 H1618 Q1620,175 1620,177 V190 Q1620,192 1618,192 H1569 Z" fill="#2962ff"/>
<text x="1577.2" y="187.2" fill="#ffffff" font-size="10.9" font-weight="bold" text-anchor="start" textLength="38.8" lengthAdjust="spacingAndGlyphs" >100,385</text>
<path d="M1569,222 H1612 Q1614,222 1614,224 V237 Q1614,239 1612,239 H1569 Z" fill="#2962ff"/>
<text x="1577.2" y="234.2" fill="#ffffff" font-size="10.9" font-weight="bold" text-anchor="start" textLength="32.7" lengthAdjust="spacingAndGlyphs" >97,706</text>
<path d="M1569,201 H1612 Q1614,201 1614,203 V216 Q1614,218 1612,218 H1569 Z" fill="#089981"/>
<text x="1577.2" y="213.2" fill="#ffffff" font-size="10.9" font-weight="bold" text-anchor="start" textLength="32.7" lengthAdjust="spacingAndGlyphs" >98,869</text>
</g>
<rect x="1522" y="201" width="45.6" height="17" fill="#089981" rx="2.5"/>
<text x="1526" y="213.6" fill="#ffffff" font-size="10.9" font-weight="bold" text-anchor="start" textLength="37.5" lengthAdjust="spacingAndGlyphs" >BTCUSD</text>
<text x="49.2" y="803.1" fill="#b2b5be" font-size="10.9" font-weight="bold" text-anchor="middle" textLength="19.5" lengthAdjust="spacingAndGlyphs" >Nov</text>
<text x="127.2" y="803.1" fill="#b2b5be" font-size="10.9" font-weight="normal" text-anchor="middle" stroke="#b2b5be" stroke-width="0.28" >4</text>
<text x="205.2" y="803.1" fill="#b2b5be" font-size="10.9" font-weight="normal" text-anchor="middle" stroke="#b2b5be" stroke-width="0.28" >7</text>
<text x="308.2" y="803.1" fill="#b2b5be" font-size="10.9" font-weight="normal" text-anchor="middle" stroke="#b2b5be" stroke-width="0.28" >11</text>
<text x="386.2" y="803.1" fill="#b2b5be" font-size="10.9" font-weight="normal" text-anchor="middle" stroke="#b2b5be" stroke-width="0.28" >14</text>
<text x="490.2" y="803.1" fill="#b2b5be" font-size="10.9" font-weight="normal" text-anchor="middle" stroke="#b2b5be" stroke-width="0.28" >18</text>
<text x="567.2" y="803.1" fill="#b2b5be" font-size="10.9" font-weight="normal" text-anchor="middle" stroke="#b2b5be" stroke-width="0.28" >21</text>
<text x="671.2" y="803.1" fill="#b2b5be" font-size="10.9" font-weight="normal" text-anchor="middle" stroke="#b2b5be" stroke-width="0.28" >25</text>
<text x="749.2" y="803.1" fill="#b2b5be" font-size="10.9" font-weight="normal" text-anchor="middle" stroke="#b2b5be" stroke-width="0.28" >28</text>
<text x="826.2" y="803.1" fill="#b2b5be" font-size="10.9" font-weight="bold" text-anchor="middle" textLength="19.5" lengthAdjust="spacingAndGlyphs" >Dec</text>
<text x="904.2" y="803.1" fill="#b2b5be" font-size="10.9" font-weight="normal" text-anchor="middle" stroke="#b2b5be" stroke-width="0.28" >4</text>
<text x="1034.2" y="803.1" fill="#b2b5be" font-size="10.9" font-weight="normal" text-anchor="middle" stroke="#b2b5be" stroke-width="0.28" >9</text>
<text x="1111.2" y="803.1" fill="#b2b5be" font-size="10.9" font-weight="normal" text-anchor="middle" stroke="#b2b5be" stroke-width="0.28" >12</text>
<text x="1215.2" y="803.1" fill="#b2b5be" font-size="10.9" font-weight="normal" text-anchor="middle" stroke="#b2b5be" stroke-width="0.28" >16</text>
<text x="1293.2" y="803.1" fill="#b2b5be" font-size="10.9" font-weight="normal" text-anchor="middle" stroke="#b2b5be" stroke-width="0.28" >19</text>
<text x="1396.2" y="803.1" fill="#b2b5be" font-size="10.9" font-weight="normal" text-anchor="middle" stroke="#b2b5be" stroke-width="0.28" >23</text>
<text x="1474.2" y="803.1" fill="#b2b5be" font-size="10.9" font-weight="normal" text-anchor="middle" stroke="#b2b5be" stroke-width="0.28" >26</text>
<text x="1552.2" y="803.1" fill="#b2b5be" font-size="10.9" font-weight="normal" text-anchor="middle" stroke="#b2b5be" stroke-width="0.28" >29</text>
<text x="10.4" y="19.2" fill="#d1d4dc" font-size="12.5" font-weight="normal" text-anchor="start" textLength="36.1" lengthAdjust="spacingAndGlyphs" stroke="#d1d4dc" stroke-width="0.28" >TaroNL</text>
<text x="50.5" y="19.2" fill="#d1d4dc" font-size="12.5" font-weight="normal" text-anchor="start" textLength="50.9" lengthAdjust="spacingAndGlyphs" stroke="#d1d4dc" stroke-width="0.28" >published</text>
<text x="105.3" y="19.2" fill="#d1d4dc" font-size="12.5" font-weight="normal" text-anchor="start" textLength="12.9" lengthAdjust="spacingAndGlyphs" stroke="#d1d4dc" stroke-width="0.28" >on</text>
<text x="122.4" y="19.2" fill="#d1d4dc" font-size="12.5" font-weight="normal" text-anchor="start" textLength="93.0" lengthAdjust="spacingAndGlyphs" stroke="#d1d4dc" stroke-width="0.28" >TradingView.com,</text>
<text x="220.3" y="19.2" fill="#d1d4dc" font-size="12.5" font-weight="normal" text-anchor="start" textLength="22.1" lengthAdjust="spacingAndGlyphs" stroke="#d1d4dc" stroke-width="0.28" >Dec</text>
<text x="247.2" y="19.2" fill="#d1d4dc" font-size="12.5" font-weight="normal" text-anchor="start" textLength="12.8" lengthAdjust="spacingAndGlyphs" stroke="#d1d4dc" stroke-width="0.28" >21,</text>
<text x="265.1" y="19.2" fill="#d1d4dc" font-size="12.5" font-weight="normal" text-anchor="start" textLength="25.0" lengthAdjust="spacingAndGlyphs" stroke="#d1d4dc" stroke-width="0.28" >2024</text>
<text x="293.3" y="19.2" fill="#d1d4dc" font-size="12.5" font-weight="normal" text-anchor="start" textLength="27.4" lengthAdjust="spacingAndGlyphs" stroke="#d1d4dc" stroke-width="0.28" >08:27</text>
<text x="326.3" y="19.2" fill="#d1d4dc" font-size="12.5" font-weight="normal" text-anchor="start" textLength="33.7" lengthAdjust="spacingAndGlyphs" stroke="#d1d4dc" stroke-width="0.28" >UTC+1</text>
<g fill="#d1d4dc"><path d="M10,826.2 H18.1 V835.7 H13.7 V829.9 H10 Z"/><circle cx="20.9" cy="828.3" r="1.9"/><path d="M24.6,826.2 H29.4 L25.6,835.7 H20.9 Z"/></g>
<text x="32.8" y="835.8" fill="#d1d4dc" font-size="12.8" font-weight="bold" text-anchor="start" textLength="70.7" lengthAdjust="spacingAndGlyphs" >TradingView</text>
</svg>
</body></html>
